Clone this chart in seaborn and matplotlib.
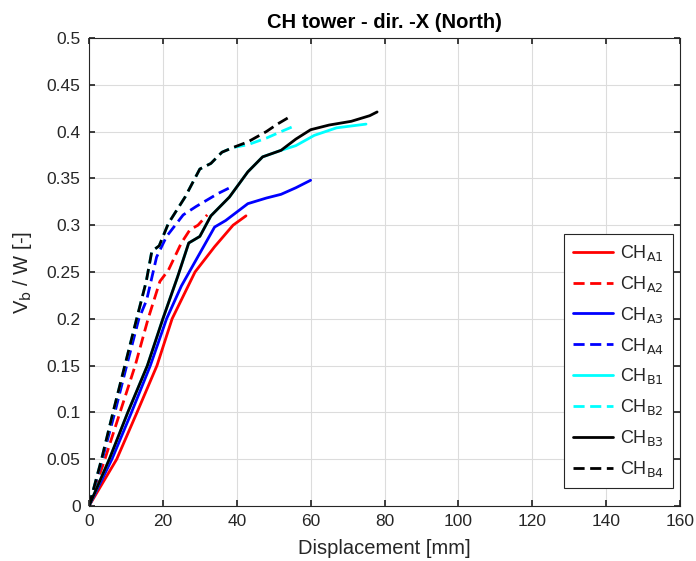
import numpy as np
import pandas as pd
import matplotlib
matplotlib.use("Agg")
import matplotlib.pyplot as plt
import seaborn as sns

# data (displacement [mm], Vb/W [-])
A1_x = [0, 7.5, 13, 18.4, 22.5, 28.7, 34, 39, 42.5]
A1_y = [0, 0.05, 0.10, 0.15, 0.20, 0.25, 0.277, 0.30, 0.31]
A2_x = [0, 4.3, 8.4, 12.5, 16, 19.2, 21.5, 25, 27.3, 29.5, 32]
A2_y = [0, 0.05, 0.10, 0.15, 0.20, 0.24, 0.252, 0.281, 0.295, 0.30, 0.311]
A3_x = [0, 6.2, 11.5, 16.6, 21, 25, 30, 34, 37, 43, 48, 52, 56, 60]
A3_y = [0, 0.05, 0.10, 0.15, 0.20, 0.235, 0.27, 0.298, 0.305, 0.323, 0.329, 0.333, 0.34, 0.348]
A4_x = [0, 3.6, 7, 10.2, 13.5, 15.6, 18.3, 21, 25.5, 29, 32, 35, 38.6]
A4_y = [0, 0.05, 0.10, 0.15, 0.20, 0.22, 0.266, 0.288, 0.311, 0.32, 0.327, 0.334, 0.341]
B1_x = [0, 5.5, 10.5, 15.8, 20, 24, 27, 30, 33, 35, 38, 43, 47, 52, 56, 61, 67, 75]
B1_y = [0, 0.05, 0.10, 0.15, 0.20, 0.245, 0.281, 0.288, 0.31, 0.318, 0.33, 0.357, 0.373, 0.38, 0.385, 0.396, 0.404, 0.408]
B2_x = [0, 3.4, 6.5, 9.7, 12.9, 15.5, 17, 19, 21.5, 26, 30, 33, 36, 39, 43, 48, 52, 55]
B2_y = [0, 0.05, 0.10, 0.15, 0.20, 0.24, 0.272, 0.278, 0.302, 0.33, 0.36, 0.366, 0.378, 0.383, 0.386, 0.393, 0.40, 0.405]
B3_x = [0, 5.5, 10.5, 15.8, 20, 24, 27, 30, 33, 35, 38, 43, 47, 52, 56, 60, 65, 71, 76, 78]
B3_y = [0, 0.05, 0.10, 0.15, 0.20, 0.245, 0.281, 0.288, 0.31, 0.318, 0.33, 0.357, 0.373, 0.38, 0.392, 0.402, 0.407, 0.411, 0.417, 0.421]
B4_x = [0, 3.4, 6.5, 9.7, 12.9, 15.5, 17, 19, 21.5, 26, 30, 33, 36, 39, 43, 48, 51, 54]
B4_y = [0, 0.05, 0.10, 0.15, 0.20, 0.24, 0.272, 0.278, 0.302, 0.33, 0.36, 0.366, 0.378, 0.383, 0.389, 0.40, 0.408, 0.415]

series = [
    (r"CH$_{\mathrm{A1}}$", A1_x, A1_y, "#ff0000", "-"),
    (r"CH$_{\mathrm{A2}}$", A2_x, A2_y, "#ff0000", "--"),
    (r"CH$_{\mathrm{A3}}$", A3_x, A3_y, "#0000ff", "-"),
    (r"CH$_{\mathrm{A4}}$", A4_x, A4_y, "#0000ff", "--"),
    (r"CH$_{\mathrm{B1}}$", B1_x, B1_y, "#00ffff", "-"),
    (r"CH$_{\mathrm{B2}}$", B2_x, B2_y, "#00ffff", "--"),
    (r"CH$_{\mathrm{B3}}$", B3_x, B3_y, "#000000", "-"),
    (r"CH$_{\mathrm{B4}}$", B4_x, B4_y, "#000000", "--"),
]

sns.set_theme(style="white")
plt.rcParams["font.family"] = ["Liberation Sans", "DejaVu Sans"]
plt.rcParams["mathtext.default"] = "regular"

fig = plt.figure(figsize=(6.96, 5.61), dpi=100)
ax = fig.add_axes([89/696, 1-506/561, (680-89)/696, (506-38)/561])

for name, xs, ys, col, ls in series:
    df = pd.DataFrame({"x": xs, "y": ys})
    sns.lineplot(data=df, x="x", y="y", ax=ax, color=col, linestyle=ls,
                 linewidth=2, label=name, sort=False, estimator=None)
    if ls == "--":
        ax.lines[-1].set_dashes((4, 2))

ax.set_xlim(0, 160)
ax.set_ylim(0, 0.5)
ax.set_xticks(np.arange(0, 161, 20))
ax.set_yticks(np.arange(0, 0.51, 0.05))
ax.set_yticklabels(["0", "0.05", "0.1", "0.15", "0.2", "0.25", "0.3", "0.35", "0.4", "0.45", "0.5"])
ax.grid(True, color="#dcdcdc", linewidth=0.8)
ax.set_axisbelow(True)
for s in ax.spines.values():
    s.set_color("#262626")
    s.set_linewidth(0.8)
ax.tick_params(direction="in", length=4, labelsize=12.5, colors="#262626",
               top=True, right=True, bottom=True, left=True, labelcolor="#262626")
ax.tick_params(axis="x", pad=6)
ax.tick_params(axis="y", pad=6)
ax.set_xlabel("Displacement [mm]", fontsize=14.5, color="#262626", labelpad=7)
ax.set_ylabel(r"V$_{\mathrm{b}}$ / W [-]", fontsize=14.5, color="#262626", labelpad=9)
ax.set_title("CH tower - dir. -X (North)", fontsize=14.5, fontweight="bold", color="#000000", pad=7)

leg = ax.legend(loc="lower right", bbox_to_anchor=(0.988, 0.0385), borderaxespad=0,
                fontsize=13, frameon=True, fancybox=False, edgecolor="#262626",
                framealpha=1, handlelength=2.2, labelspacing=0.6, borderpad=0.5,
                handletextpad=0.4)
leg.get_frame().set_linewidth(0.8)
for h in leg.get_lines():
    h.set_linewidth(2)

fig.savefig("out.png", dpi=100)
